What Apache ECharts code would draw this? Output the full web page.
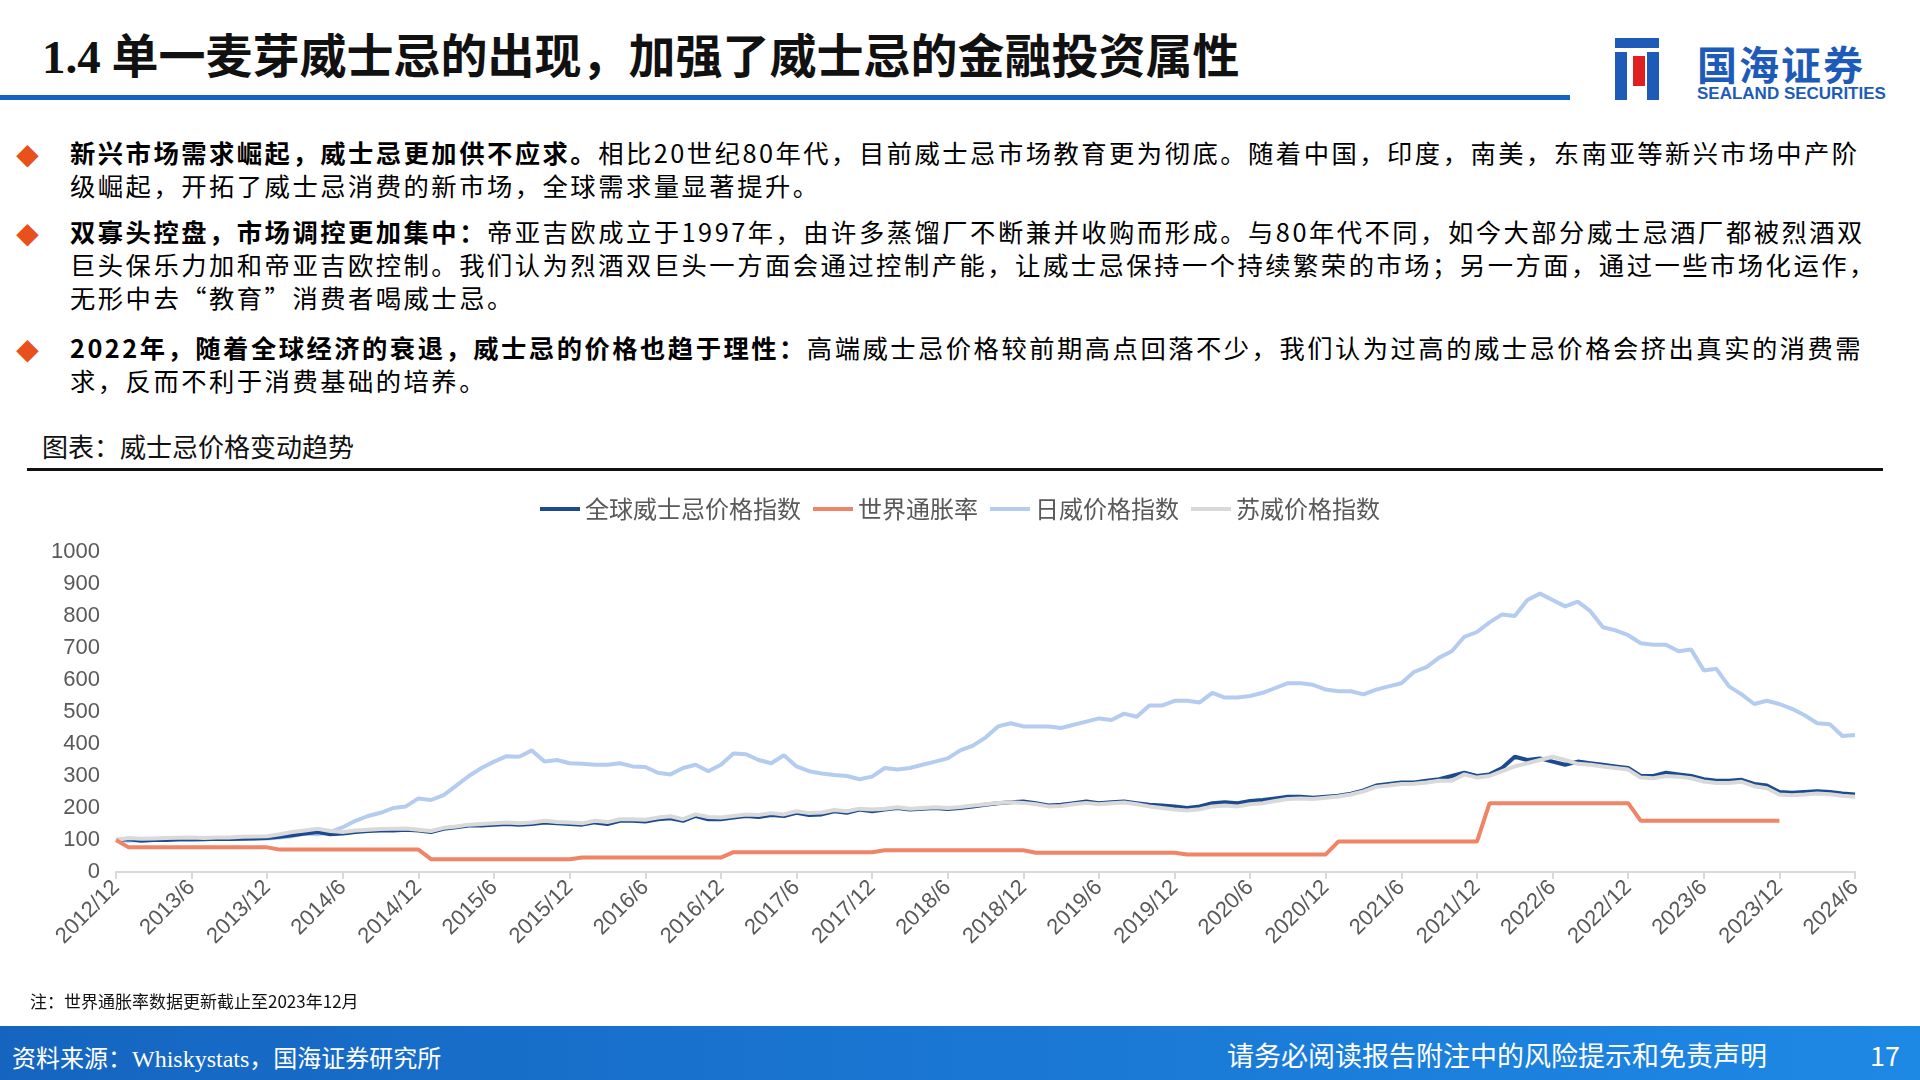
<!DOCTYPE html>
<html><head><meta charset="utf-8">
<script src="https://cdn.jsdelivr.net/npm/echarts@6/dist/echarts.min.js"></script>
<style>
body{margin:0;width:1920px;height:1080px;position:relative;background:#fff;font-family:"Noto Sans CJK SC","Noto Sans",sans-serif;overflow:hidden;color:#000}
.abs{position:absolute}
.title{left:42px;top:18px;font-size:47px;font-weight:bold;color:#111}
.bl{position:absolute;left:70px;font-size:25.3px;line-height:33px;white-space:nowrap;letter-spacing:2.5px}
.dm{position:absolute;left:16px;color:#E8501C;font-size:23px}
b{font-weight:bold}
</style></head><body>
<div class="abs title"><span style="font-family:'Liberation Serif';">1.4</span> 单一麦芽威士忌的出现，加强了威士忌的金融投资属性</div>
<div class="abs" style="left:0;top:95px;width:1570px;height:5px;background:#1565C0"></div>
<div class="abs" style="left:1615px;top:38px;width:44px;height:62px;">
 <div class="abs" style="left:0;top:0;width:44px;height:10px;background:#1E5BB8"></div>
 <div class="abs" style="left:0;top:14px;width:12px;height:48px;background:#1E5BB8"></div>
 <div class="abs" style="left:18px;top:18px;width:12px;height:30px;background:#E02020"></div>
 <div class="abs" style="left:32px;top:14px;width:12px;height:48px;background:#1E5BB8"></div>
</div>
<div class="abs" style="left:1697px;top:34px;font-size:40px;font-weight:bold;color:#1E5BB8;letter-spacing:2px">国海证券</div>
<div class="abs" style="left:1697px;top:84px;font-size:17px;font-weight:bold;color:#1E5BB8;font-family:'Liberation Sans'">SEALAND SECURITIES</div>

<div class="dm" style="top:138px">◆</div>
<div class="bl" style="top:136px"><b>新兴市场需求崛起，威士忌更加供不应求。</b>相比20世纪80年代，目前威士忌市场教育更为彻底。随着中国，印度，南美，东南亚等新兴市场中产阶<br>级崛起，开拓了威士忌消费的新市场，全球需求量显著提升。</div>
<div class="dm" style="top:217px">◆</div>
<div class="bl" style="top:215px"><b>双寡头控盘，市场调控更加集中：</b>帝亚吉欧成立于1997年，由许多蒸馏厂不断兼并收购而形成。与80年代不同，如今大部分威士忌酒厂都被烈酒双<br>巨头保乐力加和帝亚吉欧控制。我们认为烈酒双巨头一方面会通过控制产能，让威士忌保持一个持续繁荣的市场；另一方面，通过一些市场化运作，<br>无形中去“教育”消费者喝威士忌。</div>
<div class="dm" style="top:333px">◆</div>
<div class="bl" style="top:331px"><b>2022年，随着全球经济的衰退，威士忌的价格也趋于理性：</b>高端威士忌价格较前期高点回落不少，我们认为过高的威士忌价格会挤出真实的消费需<br>求，反而不利于消费基础的培养。</div>

<div class="abs" style="left:42px;top:427px;font-size:26px;color:#111">图表：威士忌价格变动趋势</div>
<div class="abs" style="left:27px;top:468px;width:1856px;height:3px;background:#111"></div>

<div id="c" class="abs" style="left:0;top:480px;width:1920px;height:520px"></div>

<div class="abs" style="left:30px;top:988px;font-size:17px;color:#111">注：世界通胀率数据更新截止至2023年12月</div>
<div class="abs" style="left:0;top:1026px;width:1920px;height:54px;background:linear-gradient(90deg,#1565C0,#1E88E5)"></div>
<div class="abs" style="left:12px;top:1039px;font-size:24px;color:#fff">资料来源：<span style="font-family:'Liberation Serif'">Whiskystats</span>，国海证券研究所</div>
<div class="abs" style="left:1227px;top:1035px;font-size:27px;color:#fff">请务必阅读报告附注中的风险提示和免责声明</div>
<div class="abs" style="left:1870px;top:1035px;font-size:27px;color:#fff">17</div>

<script>
const months = [];
for (let y = 2012, m = 12; y < 2024 || (y === 2024 && m <= 6);) { months.push(y + '/' + m); m++; if (m > 12) { m = 1; y++; } }

const globalIdx = [100,
 102,98,100,100,102,103,102,104,103,104,105,106,
 110,115,120,125,118,120,125,128,130,130,132,130,
 125,135,140,145,145,148,150,148,150,155,152,150,
 148,155,150,160,160,158,165,168,160,175,165,165,
 170,175,172,178,175,185,178,180,190,185,195,190,
 195,200,195,198,200,197,200,205,210,215,218,220,
 215,208,210,215,220,215,218,220,215,210,208,205,
 200,205,215,218,215,222,225,230,235,235,232,235,
 238,245,255,270,275,280,280,285,290,300,310,300,
 305,325,360,350,355,345,335,345,340,335,330,325,
 300,300,310,305,300,290,285,285,288,275,270,250,
 248,250,252,250,245,242];
const inflation = [100,
 77,77,77,77,77,77,77,77,77,77,77,77,
 70,70,70,70,70,70,70,70,70,70,70,70,
 40,40,40,40,40,40,40,40,40,40,40,40,
 45,45,45,45,45,45,45,45,45,45,45,45,
 62,62,62,62,62,62,62,62,62,62,62,62,
 68,68,68,68,68,68,68,68,68,68,68,68,
 60,60,60,60,60,60,60,60,60,60,60,60,
 55,55,55,55,55,55,55,55,55,55,55,55,
 95,95,95,95,95,95,95,95,95,95,95,95,
 215,215,215,215,215,215,215,215,215,215,215,215,
 160,160,160,160,160,160,160,160,160,160,160,160,
 null,null,null,null,null,null];
const japanIdx = [100,
 98,100,102,100,101,100,102,103,103,104,105,105,
 108,112,120,118,125,140,160,175,185,200,205,230,
 225,240,270,300,325,345,362,360,380,345,350,340,
 338,335,335,340,330,328,310,305,325,335,315,335,
 370,368,350,340,365,330,315,308,303,300,290,298,
 325,320,325,335,345,355,380,395,420,455,465,455,
 455,455,450,460,470,480,475,495,485,520,520,535,
 535,530,560,545,545,550,560,575,590,590,585,570,
 565,565,555,570,580,590,625,640,670,690,735,750,
 780,805,800,850,870,850,830,845,815,765,755,740,
 715,710,710,690,695,630,635,580,555,525,535,525,
 510,490,465,462,425,428];
const scotchIdx = [100,
 106,104,105,106,107,108,106,108,108,110,111,112,
 118,125,130,135,128,125,130,132,134,135,136,132,
 128,138,142,148,150,152,155,152,155,160,156,155,
 152,160,156,165,165,163,170,174,165,180,172,170,
 175,180,178,184,180,190,184,186,194,190,198,195,
 198,202,198,200,202,200,203,208,212,216,218,216,
 212,205,206,212,216,212,215,217,212,205,200,195,
 192,196,205,208,205,212,215,222,228,230,228,232,
 236,242,252,266,270,275,276,280,285,285,305,295,
 300,315,330,340,350,360,350,338,335,330,325,320,
 295,293,300,298,293,283,278,278,282,268,262,242,
 240,242,245,243,238,235];

const chart = echarts.init(document.getElementById('c'));
const axisFont = {color:'#595959', fontSize:22, fontFamily:'Liberation Sans'};
chart.setOption({
  animation:false,
  legend:{top:12,left:'center',itemWidth:40,itemHeight:4,itemGap:12,
    textStyle:{color:'#595959',fontSize:24,fontFamily:'Noto Sans CJK SC'},
    data:['全球威士忌价格指数','世界通胀率','日威价格指数','苏威价格指数'],icon:'rect'},
  grid:{left:116,right:65,top:72,bottom:128},
  xAxis:{type:'category',data:months,boundaryGap:false,
    axisLine:{lineStyle:{color:'#D9D9D9',width:2}},
    axisTick:{interval:5,length:7,lineStyle:{color:'#D9D9D9',width:2}},
    axisLabel:Object.assign({interval:5,rotate:45,margin:12},axisFont)},
  yAxis:{type:'value',min:0,max:1000,interval:100,splitLine:{show:false},
    axisLine:{show:false},axisTick:{show:false},
    axisLabel:Object.assign({margin:16,formatter:v=>String(v)},axisFont)},
  series:[
    {name:'日威价格指数',type:'line',data:japanIdx,showSymbol:false,z:1,lineStyle:{color:'#B4CCF0',width:4},itemStyle:{color:'#B4CCF0'}},
    {name:'全球威士忌价格指数',type:'line',data:globalIdx,showSymbol:false,z:2,lineStyle:{color:'#1B4A8F',width:4},itemStyle:{color:'#1B4A8F'}},
    {name:'苏威价格指数',type:'line',data:scotchIdx,showSymbol:false,z:3,lineStyle:{color:'#D9D9D9',width:4},itemStyle:{color:'#D9D9D9'}},
    {name:'世界通胀率',type:'line',data:inflation,showSymbol:false,z:4,lineStyle:{color:'#EF8467',width:4},itemStyle:{color:'#EF8467'}}
  ]
});
</script></body></html>
